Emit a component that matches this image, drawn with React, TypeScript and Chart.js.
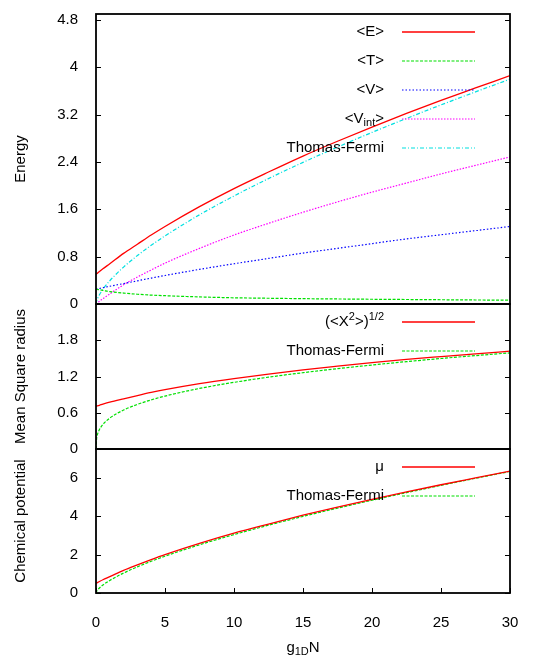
import React, { useEffect, useRef } from "react";
import { Chart, registerables } from "chart.js";

Chart.register(...registerables);

// ---------- data ----------
const gN = [0, 0.05, 0.1, 0.25, 0.5, 1, 2, 3, 4, 5, 7.5, 10, 12.5, 15, 17.5, 20, 22.5, 25, 27.5, 30];

const energyE = [0.5, 0.51, 0.52, 0.549, 0.595, 0.68, 0.855, 1.01, 1.165, 1.31, 1.645, 1.95, 2.23, 2.5, 2.75, 2.99, 3.22, 3.44, 3.65, 3.86];
const energyT = [0.25, 0.248, 0.246, 0.24, 0.23, 0.21, 0.185, 0.165, 0.15, 0.14, 0.12, 0.105, 0.097, 0.09, 0.085, 0.08, 0.076, 0.072, 0.068, 0.065];
const energyV = [0.25, 0.2525, 0.255, 0.262, 0.275, 0.3, 0.345, 0.392, 0.438, 0.482, 0.585, 0.68, 0.77, 0.86, 0.94, 1.02, 1.1, 1.17, 1.24, 1.31];
const energyVint = [0, 0.0095, 0.019, 0.047, 0.09, 0.17, 0.325, 0.455, 0.575, 0.69, 0.94, 1.165, 1.363, 1.55, 1.725, 1.89, 2.044, 2.198, 2.342, 2.485];
const energyTF = [0, 0.053, 0.085, 0.156, 0.248, 0.393, 0.624, 0.818, 0.991, 1.15, 1.507, 1.825, 2.119, 2.393, 2.651, 2.899, 3.135, 3.364, 3.584, 3.799];

const radiusGP = [0.707, 0.711, 0.714, 0.724, 0.742, 0.775, 0.831, 0.885, 0.936, 0.982, 1.082, 1.166, 1.241, 1.311, 1.371, 1.428, 1.483, 1.53, 1.575, 1.619];
const radiusTF = [0, 0.189, 0.237, 0.322, 0.406, 0.512, 0.645, 0.738, 0.813, 0.876, 1.002, 1.103, 1.189, 1.263, 1.329, 1.39, 1.446, 1.498, 1.546, 1.591];

const muGP = [0.5, 0.52, 0.54, 0.598, 0.69, 0.85, 1.18, 1.465, 1.74, 2.0, 2.585, 3.115, 3.59, 4.05, 4.475, 4.88, 5.264, 5.638, 5.992, 6.345];
const muTF = [0, 0.089, 0.141, 0.26, 0.413, 0.655, 1.04, 1.363, 1.651, 1.916, 2.511, 3.042, 3.531, 3.988, 4.419, 4.831, 5.225, 5.607, 5.974, 6.331];

const xTicks = [0, 5, 10, 15, 20, 25, 30];
const energyTicks = [0, 0.8, 1.6, 2.4, 3.2, 4, 4.8];
const radiusTicks = [0, 0.6, 1.2, 1.8];
const muTicks = [0, 2, 4, 6];

const energyMax = 4.9;
const radiusMax = 2.4;
const muMax = 7.5;

const xTitle = "g_{1D}N";

// ---------- helpers ----------
const FAMILY = "'Liberation Sans', Arial, Helvetica, sans-serif";
const FS = 15;
const SUBFS = 11;

type Seg = { t: string; m: "n" | "sub" | "sup" };

function parseRich(s: string): Seg[] {
  const out: Seg[] = [];
  let buf = "";
  let i = 0;
  while (i < s.length) {
    const c = s[i];
    if ((c === "_" || c === "^") && s[i + 1] === "{") {
      if (buf) { out.push({ t: buf, m: "n" }); buf = ""; }
      const end = s.indexOf("}", i + 2);
      out.push({ t: s.slice(i + 2, end), m: c === "_" ? "sub" : "sup" });
      i = end + 1;
    } else {
      buf += c;
      i++;
    }
  }
  if (buf) out.push({ t: buf, m: "n" });
  return out;
}

function drawRich(ctx: CanvasRenderingContext2D, s: string, x: number, y: number, align: "right" | "center") {
  const segs = parseRich(s);
  const fontFor = (m: string) => `${m === "n" ? FS : SUBFS}px ${FAMILY}`;
  let total = 0;
  const widths = segs.map((sg) => {
    ctx.font = fontFor(sg.m);
    const w = ctx.measureText(sg.t).width;
    total += w;
    return w;
  });
  let cx = align === "right" ? x - total : x - total / 2;
  ctx.fillStyle = "#000";
  ctx.textAlign = "left";
  ctx.textBaseline = "middle";
  segs.forEach((sg, i) => {
    ctx.font = fontFor(sg.m);
    const dy = sg.m === "sub" ? 4 : sg.m === "sup" ? -5 : 0;
    ctx.fillText(sg.t, cx, y + dy);
    cx += widths[i];
  });
}

const framePlugin = {
  id: "gnuFrame",
  afterDatasetsDraw(chart: any, _args: any, opts: any) {
    const ctx: CanvasRenderingContext2D = chart.ctx;
    const a = chart.chartArea;
    ctx.save();
    // legend
    chart.data.datasets.forEach((ds: any, i: number) => {
      const y = a.top + 18 + 29 * i;
      drawRich(ctx, ds.label, a.right - 126, y, "right");
      ctx.beginPath();
      ctx.strokeStyle = ds.borderColor;
      ctx.lineWidth = ds.borderWidth || 1;
      ctx.setLineDash(ds.borderDash || []);
      ctx.moveTo(a.right - 108, y);
      ctx.lineTo(a.right - 35, y);
      ctx.stroke();
    });
    ctx.setLineDash([]);
    // border
    ctx.strokeStyle = "#000";
    ctx.lineWidth = 1.8;
    ctx.strokeRect(a.left, a.top, a.right - a.left, a.bottom - a.top);
    // inward y ticks, mirrored
    ctx.lineWidth = 1;
    const ys = chart.scales.y;
    ys.ticks.forEach((t: any) => {
      const p = Math.round(ys.getPixelForValue(t.value)) + 0.5;
      ctx.beginPath();
      ctx.moveTo(a.left, p);
      ctx.lineTo(a.left + 5, p);
      ctx.moveTo(a.right - 5, p);
      ctx.lineTo(a.right, p);
      ctx.stroke();
    });
    if (opts && opts.xAxis) {
      const xs = chart.scales.x;
      xs.ticks.forEach((t: any) => {
        const p = Math.round(xs.getPixelForValue(t.value)) + 0.5;
        ctx.beginPath();
        ctx.moveTo(p, a.bottom);
        ctx.lineTo(p, a.bottom - 5);
        ctx.stroke();
      });
      drawRich(ctx, xTitle, (a.left + a.right) / 2, a.bottom + 55, "center");
    }
    ctx.restore();
  },
};

type DS = { label: string; values: number[]; color: string; dash: number[]; width?: number };
type PanelSpec = {
  top: number;
  h: number;
  bottomPad: number;
  showX: boolean;
  yMax: number;
  yTicks: number[];
  yTitle: string;
  datasets: DS[];
};

const panels: PanelSpec[] = [
  {
    top: 4, h: 310, bottomPad: 10, showX: false, yMax: energyMax, yTicks: energyTicks, yTitle: "Energy",
    datasets: [
      { label: "<E>", values: energyE, color: "#ff0000", dash: [], width: 1.3 },
      { label: "<T>", values: energyT, color: "#00e000", dash: [3, 1.5], width: 1.2 },
      { label: "<V>", values: energyV, color: "#0000ff", dash: [1.5, 2], width: 1.2 },
      { label: "<V_{int}>", values: energyVint, color: "#ff00ff", dash: [1.5, 1.5], width: 1.2 },
      { label: "Thomas-Fermi", values: energyTF, color: "#00e0e0", dash: [4, 2, 1, 2], width: 1.2 },
    ],
  },
  {
    top: 294, h: 165, bottomPad: 10, showX: false, yMax: radiusMax, yTicks: radiusTicks, yTitle: "Mean Square radius",
    datasets: [
      { label: "(<X^{2}>)^{1/2}", values: radiusGP, color: "#ff0000", dash: [], width: 1.3 },
      { label: "Thomas-Fermi", values: radiusTF, color: "#00e000", dash: [3, 1.5], width: 1.2 },
    ],
  },
  {
    top: 439, h: 221, bottomPad: 0, showX: true, yMax: muMax, yTicks: muTicks, yTitle: "Chemical potential",
    datasets: [
      { label: "μ", values: muGP, color: "#ff0000", dash: [], width: 1.3 },
      { label: "Thomas-Fermi", values: muTF, color: "#00e000", dash: [3, 1.5], width: 1.2 },
    ],
  },
];

function makeConfig(p: PanelSpec): any {
  const font = { family: FAMILY, size: FS };
  return {
    type: "line",
    data: {
      datasets: p.datasets.map((d) => ({
        label: d.label,
        data: gN.map((x, i) => ({ x, y: d.values[i] })),
        borderColor: d.color,
        borderDash: d.dash,
        borderWidth: d.width || 1,
        pointRadius: 0,
        fill: false,
        cubicInterpolationMode: "monotone",
      })),
    },
    options: {
      animation: false,
      responsive: false,
      maintainAspectRatio: false,
      layout: { padding: { left: 0, right: 27, top: 10, bottom: p.bottomPad } },
      plugins: {
        legend: { display: false },
        tooltip: { enabled: false },
        gnuFrame: { xAxis: p.showX },
      },
      scales: {
        x: {
          type: "linear",
          min: 0,
          max: 30,
          display: p.showX,
          grid: { display: false, drawTicks: false },
          border: { display: false },
          ticks: { color: "#000", font, padding: 21, maxRotation: 0, autoSkip: false, callback: (v: number) => String(v) },
          afterBuildTicks: (s: any) => { s.ticks = xTicks.map((v) => ({ value: v })); },
          afterFit: (s: any) => {
            s.height = p.showX ? 67 : 0;
            s.paddingLeft = 0;
            s.paddingRight = 0;
          },
        },
        y: {
          type: "linear",
          min: 0,
          max: p.yMax,
          grid: { display: false, drawTicks: false },
          border: { display: false },
          ticks: { color: "#000", font, padding: 18, callback: (v: number) => String(v) },
          afterBuildTicks: (s: any) => { s.ticks = p.yTicks.map((v) => ({ value: v })); },
          afterFit: (s: any) => {
            s.width = 96;
            s.paddingTop = 0;
            s.paddingBottom = 0;
          },
          title: { display: true, text: p.yTitle, color: "#000", font, padding: { top: 12, bottom: 0 } },
        },
      },
    },
    plugins: [framePlugin],
  };
}

function Panel({ spec }: { spec: PanelSpec }) {
  const ref = useRef<HTMLCanvasElement>(null);
  useEffect(() => {
    const chart = new Chart(ref.current as HTMLCanvasElement, makeConfig(spec));
    return () => chart.destroy();
  }, [spec]);
  return (
    <canvas
      ref={ref}
      width={537}
      height={spec.h}
      style={{ position: "absolute", left: 0, top: spec.top, width: 537, height: spec.h }}
    />
  );
}

export default function App() {
  return (
    <div style={{ position: "absolute", left: 0, top: 0, width: 537, height: 660, background: "#fff" }}>
      {panels.map((p, i) => (
        <Panel key={i} spec={p} />
      ))}
    </div>
  );
}
